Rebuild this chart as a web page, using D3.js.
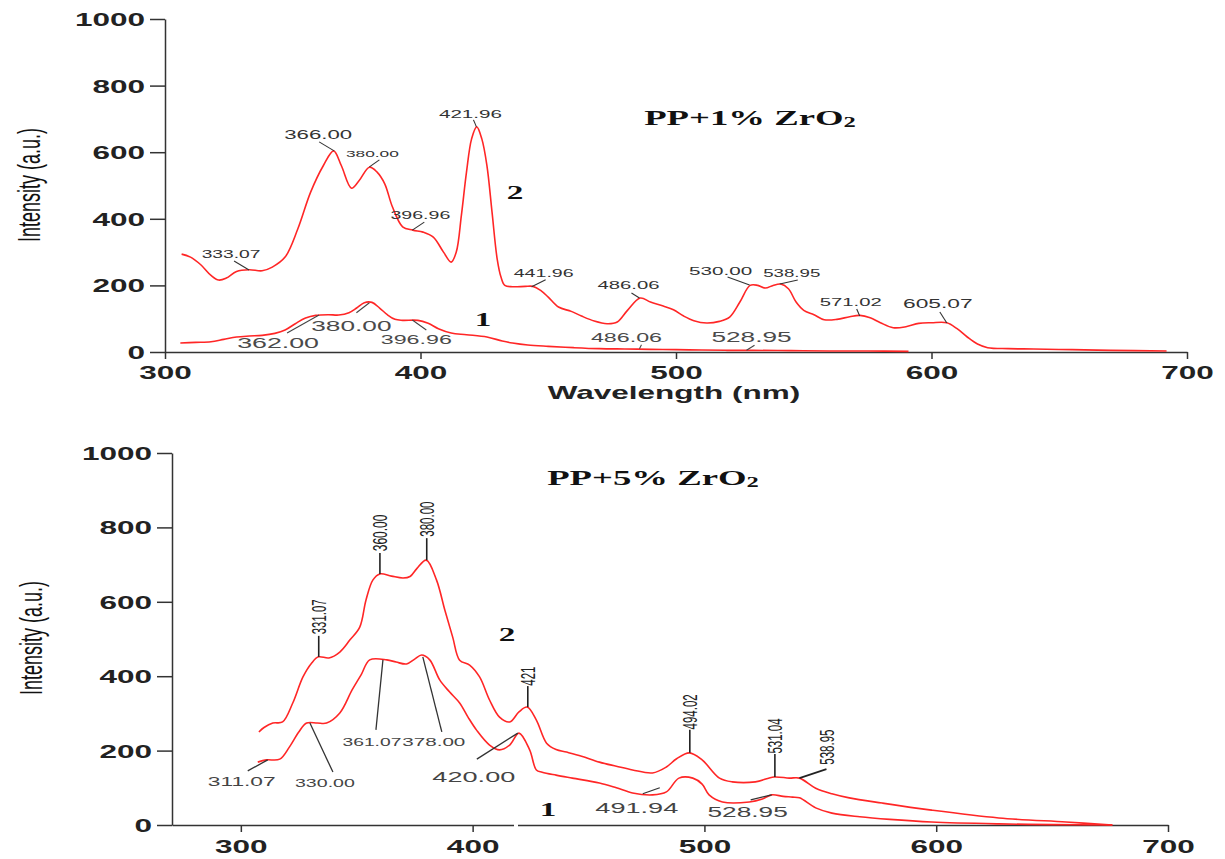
<!DOCTYPE html>
<html><head><meta charset="utf-8">
<script src="https://cdn.jsdelivr.net/npm/d3@7"></script>
<style>
html,body{margin:0;padding:0;background:#fff;}
svg{display:block;}
</style></head>
<body>
<svg id="chart" width="1225" height="859"></svg>
<script>
// ---------------- DATA ----------------
const xTicks = [300, 400, 500, 600, 700];
const yTicks = [0, 200, 400, 600, 800, 1000];
const titles = ["PP+1% ZrO", "PP+5% ZrO"];
const seriesNames = ["1", "2"];

// PP+1% ZrO2, curve 2 [wavelength nm, intensity a.u.]
const top2 = [[306.5,294],[310,285],[314,262],[318,230],[321,216],[324,222],[328,242],[333,247],[338,244],[342,255],[347,285],[352,370],[357,480],[362,560],[366,604],[369,560],[373,492],[376,515],[380,555],[383,540],[386,505],[389,436],[393,376],[397,366],[401,360],[405,345],[409,300],[412,270],[414,300],[416,410],[418,540],[420,640],[422,676],[424,640],[426,560],[428,420],[430,280],[431.5,225],[433,200],[436,196],[441,197],[444,197],[447,185],[450,165],[454,135],[459,122],[463,108],[468,93],[473,85],[477,90],[481,125],[486,162],[490,150],[495,138],[499,127],[503,108],[507,94],[512,87],[517,92],[521,105],[525,150],[529,200],[532,200],[535,192],[538,200],[541,204],[544,190],[547,150],[550,125],[554,112],[558,97],[563,98],[568,106],[572,110],[576,103],[580,88],[585,73],[590,76],[595,86],[600,88],[606,88],[610,70],[614,45],[618,24],[622,13],[630,10],[640,9],[655,7],[670,5],[692,3]];
// PP+1% ZrO2, curve 1
const top1 = [[306,27],[312,29],[318,31],[323,38],[328,45],[333,48],[338,50],[343,56],[347,66],[351,85],[355,102],[359,110],[364,112],[368,111],[372,118],[375,132],[378,148],[381,149],[384,132],[387,112],[390,98],[393,95],[399,95],[403,86],[407,70],[412,57],[418,52],[426,45],[432,33],[436,27],[442,21],[450,17],[460,13],[470,10],[480,9],[490,8],[500,7],[510,6],[520,5],[530,5],[545,4],[560,3],[575,3],[591,2]];
// PP+5% ZrO2, curve 2
const bot2 = [[307.8,250],[310,262],[313.8,274],[318,277],[322.4,328],[326.8,398],[330.5,435],[333.5,452],[338,449],[342.7,465],[347,497],[351.3,532],[354,605],[357,659],[360,675],[365,669],[370,664],[373,668],[376,690],[380,712],[384.4,659],[388,578],[391.4,505],[394.4,443],[398.7,430],[403,398],[407.3,336],[411.6,290],[416,277],[420,304],[423.5,317],[427.5,282],[431.9,220],[436,203],[440.5,196],[447,185],[454.7,169],[462,158],[469,148],[477.6,140],[483.6,156],[488,178],[493.5,194],[499,175],[506.5,126],[512,116],[522,116],[530,129],[536.6,126],[541,126],[548,99],[555,84],[562.5,73],[576.7,59],[598,40],[627,19],[656,8],[676,0]];
// PP+5% ZrO2, curve 1
const bot1 = [[307.3,169],[311,175],[316.8,177],[321,210],[325,250],[328.4,274],[333,274],[337,274],[342.7,301],[348,363],[352,405],[355.6,444],[363,444],[367,438],[371.5,433],[375,446],[378,457],[381.5,444],[385.8,390],[390,358],[394.4,328],[398,290],[401.7,255],[407.3,215],[411.6,202],[416,215],[420,247],[424.6,202],[427.5,148],[430,142],[436,134],[443,126],[454.7,113],[462,100],[469,86],[477.6,81],[483.6,89],[489,126],[495,126],[499,110],[502,81],[507.8,62],[519.4,62],[525,70],[529,81],[534,77],[538,75],[541,73],[548,46],[555,32],[567,22],[580,15],[598,8],[627,3],[650,1],[676,0]];

// peak annotations: label text, wavelength, intensity at anchor
const top2Peaks = [["333.07",332.9,246],["366.00",366.2,604],["380.00",380,556],["396.96",396.8,366],["421.96",421.9,676],["441.96",443.5,196],["486.06",485.7,162],["530.00",528.8,201],["538.95",540.6,204],["571.02",571.9,108],["605.07",606,87]];
const top1Peaks = [["362.00",360.3,111],["380.00",380,148],["396.96",396.8,96],["486.06",485.7,10],["528.95",527.6,5]];
const bot2Peaks = [["331.07",333.6,452],["360.00",360,675],["380.00",380.2,712],["421",423.8,317],["494.02",493.7,194],["531.04",530.4,129],["538.95",541,126]];
const bot1Peaks = [["311.07",311.6,175],["330.00",329.8,274],["361.07",361.3,444],["378.00",378.5,452],["420.00",419.5,247],["491.94",473.4,84],["528.95",529,81]];

// ---------------- LAYOUT / STYLE ----------------
// [leader dx, leader dy, label dx, label dy, font size]
const top2Layout = [[-15,-9,-18,-16,11],[-15,-9,-16,-16,12.7],[10,-7,3,-13,9.9],[12,-8,8,-15,11.2],[-3,-7,-6,-13,11.8],[14,-7,12,-14,11.2],[-8,-5,-11,-13,11.6],[-22,-8,-29,-14,11.8],[18,-4,12,-11,10.7],[-3,-7,-9,-14,11.6],[-7,-11,-9,-20,13]];
const top1Layout = [[-32,18,-41,28,15.3],[-13,10,-18,23,15],[14,10,4,19,13.3],[2,-4,-13,-11,13.3],[8,-5,5,-13,15]];
const bot2Layout = [[0,-21,0,-40,11.4],[0,-21,0,-41,12],[0,-22,0,-41,11.5],[0,-21,0,-31,11.5],[0,-23,0,-41,11.5],[0,-23,0,-41,11.5],[27,-9,27,-31,11.5]];
const bot1Layout = [[-20,11,-26,22,13],[23,49,15,60,11.2],[-7,70,-11,82,11],[19,75,11,85,11.8],[-41,26,-44,44,15.5],[17,-6,-6,14,15.5],[-21,5,-24,17,15]];

const SX = 1.75; // horizontal stretch of the original picture
const RED = "#ff2626";
const SANS = "'Liberation Sans', Arial, sans-serif";
const SERIF = "'Liberation Serif', 'Times New Roman', serif";

const svg = d3.select("#chart");

function txt(g, x, y, s, o) {
  o = o || {};
  const t = g.append("text")
    .attr("transform", `translate(${x},${y}) scale(${SX},1)` + (o.rotate ? " rotate(-90)" : ""))
    .attr("text-anchor", o.anchor || "middle")
    .attr("dominant-baseline", o.baseline || "central")
    .attr("font-family", o.family || SANS)
    .attr("font-size", o.size || 12)
    .attr("font-weight", o.weight || "normal")
    .attr("fill", o.fill || "#333")
    .text(s);
  return t;
}

function panel(cfg) {
  const g = svg.append("g");
  const x = d3.scaleLinear().domain(cfg.xDomain).range(cfg.xRange);
  const y = d3.scaleLinear().domain([0, 1000]).range(cfg.yRange);

  // axes
  const ax = g.append("g").attr("transform", `translate(0,${cfg.yRange[0]})`)
    .call(d3.axisBottom(x).tickValues(xTicks).tickSize(7).tickSizeOuter(0).tickFormat(d3.format("d")));
  const ay = g.append("g").attr("transform", `translate(${cfg.xRange[0]},0)`)
    .call(d3.axisLeft(y).tickValues(yTicks).tickSize(15).tickSizeOuter(0).tickFormat(d3.format("d")));
  [ax, ay].forEach(a => {
    a.select(".domain").attr("stroke", "#333").attr("stroke-width", 1.5);
    a.selectAll(".tick line").attr("stroke", "#333").attr("stroke-width", 1.5);
    a.selectAll(".tick text").attr("font-family", SANS).attr("font-size", 18)
      .attr("font-weight", "bold").attr("fill", "#222");
  });
  ax.selectAll(".tick text").attr("dy", null).attr("y", cfg.xLabelDy)
    .attr("transform", `scale(${SX},1)`);
  ay.selectAll(".tick text").attr("x", -20 / SX).attr("dy", "0.36em")
    .attr("transform", `scale(${SX},1)`);
  if (cfg.gap) {
    g.append("rect").attr("x", cfg.gap[0]).attr("y", cfg.yRange[0] - 2)
      .attr("width", cfg.gap[1]).attr("height", 4).attr("fill", "#fff");
  }

  // curves
  const line = d3.line().x(d => x(d[0])).y(d => y(d[1])).curve(d3.curveCatmullRom.alpha(0.5));
  cfg.series.forEach(s => {
    g.append("path").datum(s).attr("d", line).attr("fill", "none")
      .attr("stroke", RED).attr("stroke-width", 1.6).attr("stroke-linejoin", "round");
  });

  // annotations
  cfg.annots.forEach(a => {
    a.peaks.forEach((p, i) => {
      const L = a.layout[i];
      const px = x(p[1]), py = y(p[2]);
      g.append("line").attr("x1", px).attr("y1", py).attr("x2", px + L[0]).attr("y2", py + L[1])
        .attr("stroke", a.lineColor).attr("stroke-width", a.lineWidth);
      txt(g, px + L[2], py + L[3], p[0], { size: L[4], fill: a.fill, rotate: a.rotate });
    });
  });

  // y label
  txt(g, cfg.yLabelPos[0], cfg.yLabelPos[1], "Intensity (a.u.)", { size: 18, fill: "#111", rotate: true });

  // title with subscript
  const t = txt(g, cfg.titlePos[0], cfg.titlePos[1], "", {
    family: SERIF, size: 21, weight: "bold", fill: "#111", baseline: "alphabetic"
  });
  t.append("tspan").text(cfg.title);
  t.append("tspan").attr("font-size", 14).attr("dy", 2).text("2");

  // series numbers
  cfg.nums.forEach((n, i) => {
    txt(g, n[0], n[1], seriesNames[i], { family: SERIF, size: 19, weight: "bold", fill: "#111" });
  });
  return g;
}

// top panel
const gTop = panel({
  xDomain: [300, 700], xRange: [165, 1187], yRange: [352, 19], xLabelDy: 27,
  series: [top2, top1],
  annots: [
    { peaks: top2Peaks, layout: top2Layout, fill: "#333", lineColor: "#333", lineWidth: 1.1, rotate: false },
    { peaks: top1Peaks, layout: top1Layout, fill: "#4a4a4a", lineColor: "#444", lineWidth: 1.1, rotate: false }
  ],
  yLabelPos: [29, 185], title: titles[0], titlePos: [750, 125],
  nums: [[483, 320], [515, 193]]
});
txt(gTop, 674, 393, "Wavelength (nm)", { size: 18, weight: "bold", fill: "#222" });

// bottom panel
panel({
  xDomain: [270.3, 700], xRange: [172, 1168], yRange: [825, 453], xLabelDy: 28,
  gap: [514, 4],
  series: [bot2, bot1],
  annots: [
    { peaks: bot2Peaks, layout: bot2Layout, fill: "#222", lineColor: "#222", lineWidth: 1.6, rotate: true },
    { peaks: bot1Peaks, layout: bot1Layout, fill: "#444", lineColor: "#333", lineWidth: 1.3, rotate: false }
  ],
  yLabelPos: [31, 638], title: titles[1], titlePos: [653, 485],
  nums: [[548, 810], [507, 635]]
});
</script>
</body></html>
